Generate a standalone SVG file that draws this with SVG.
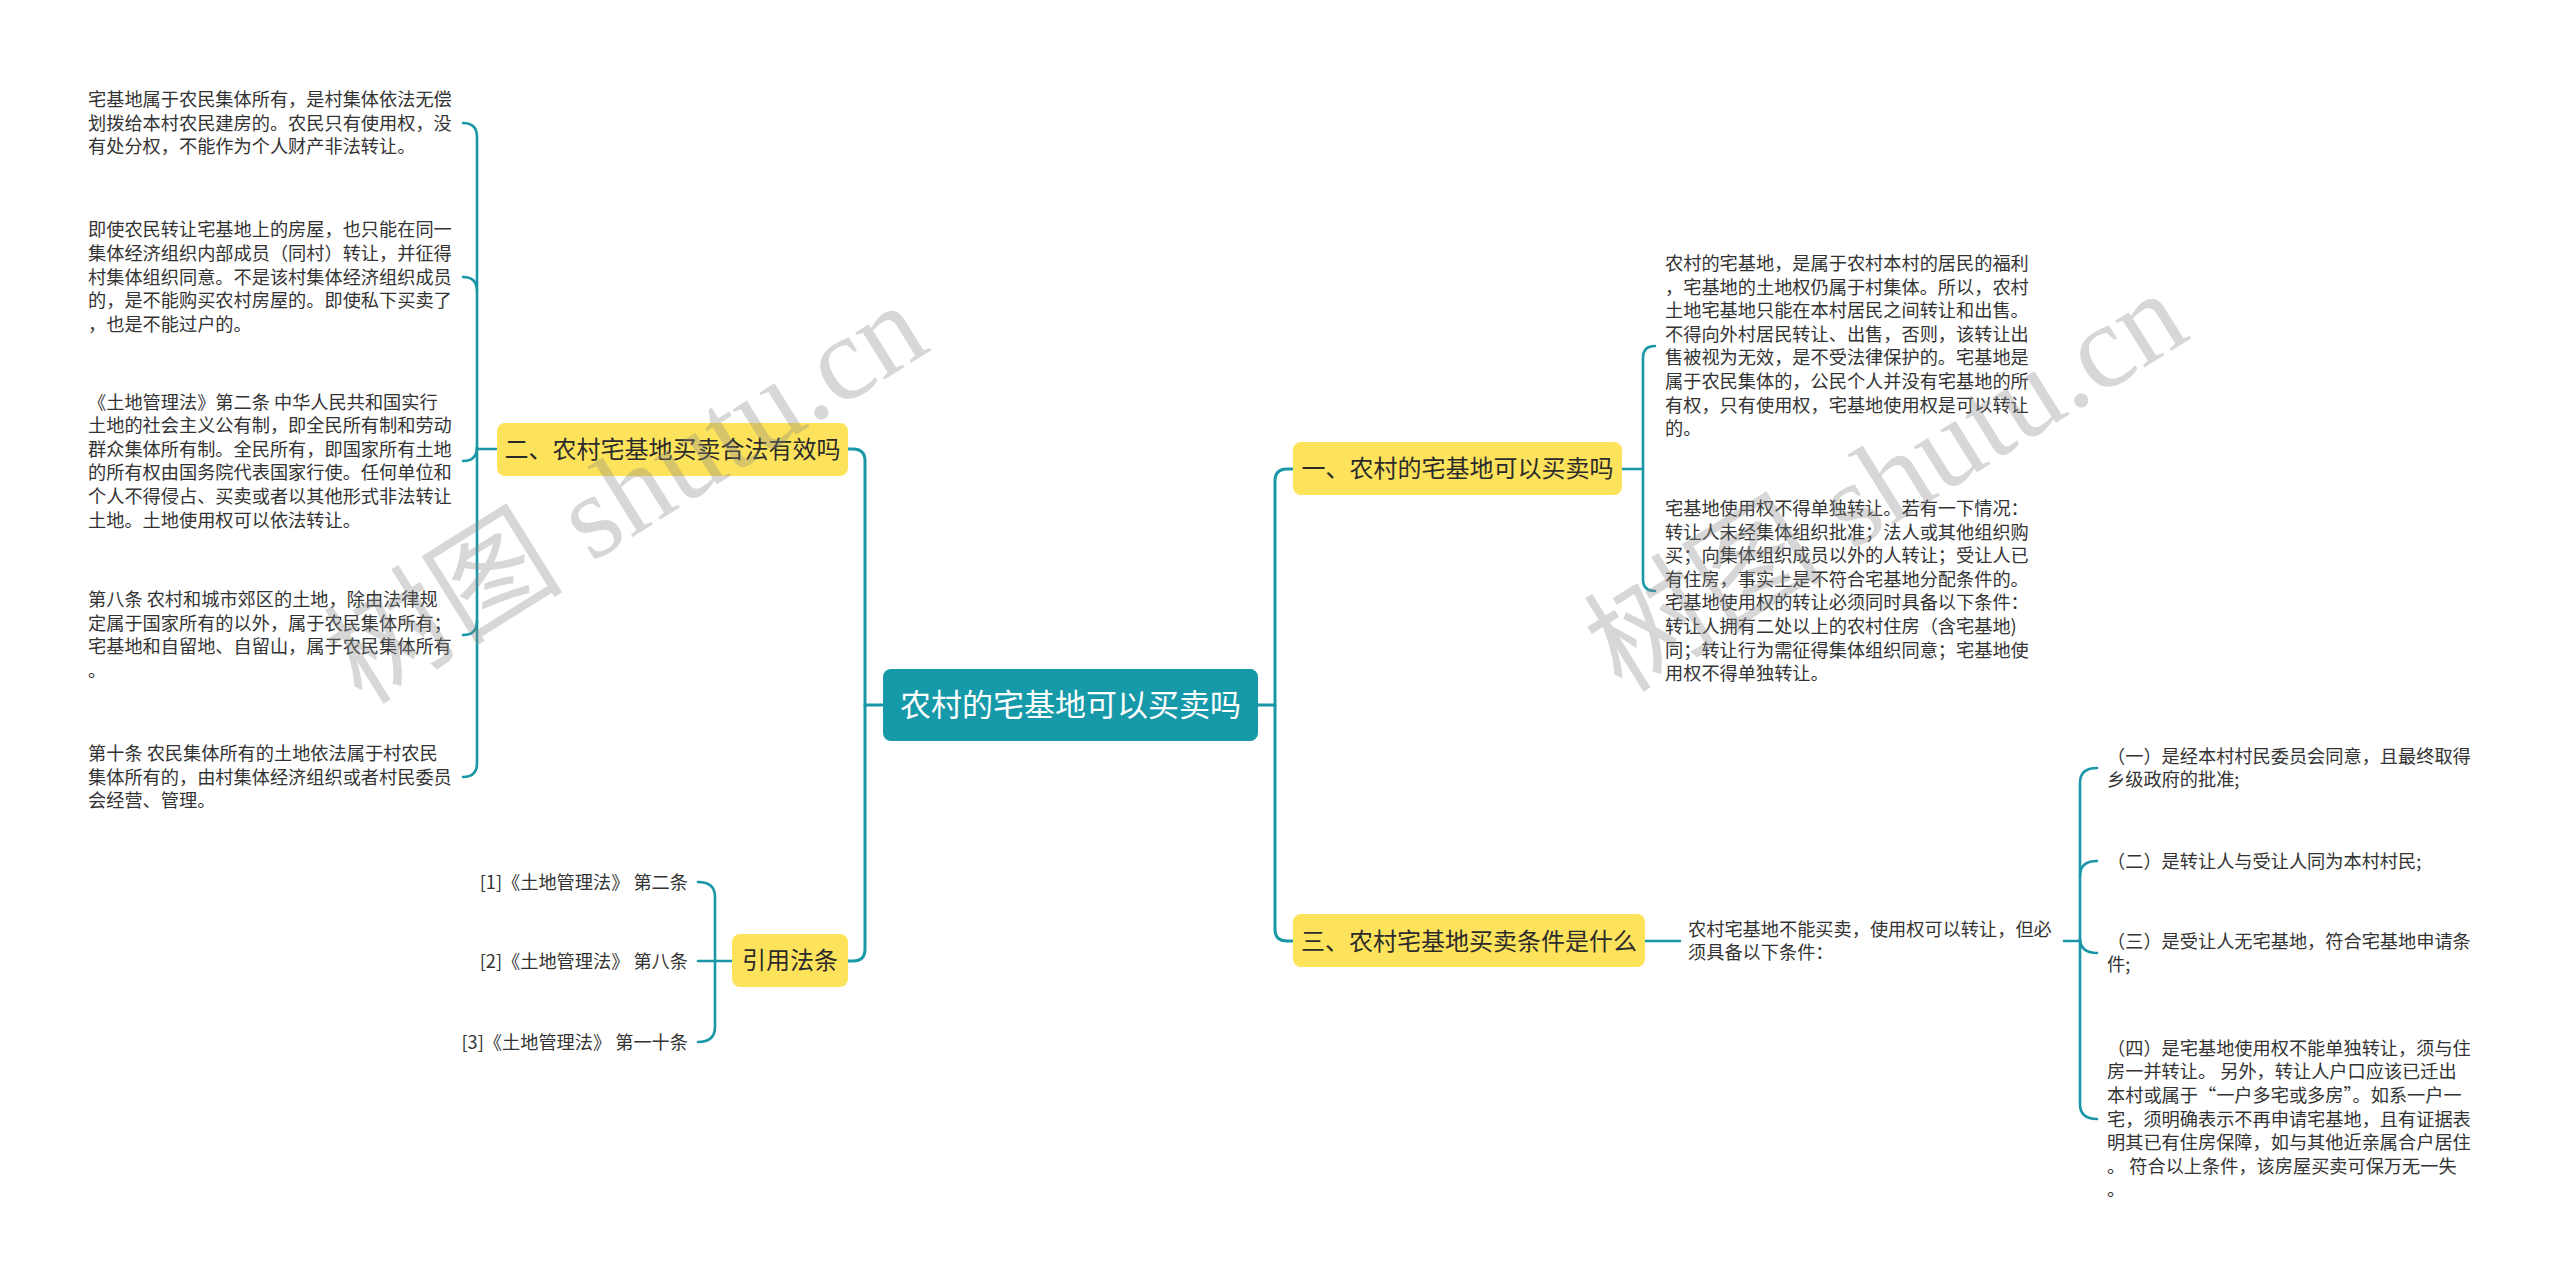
<svg xmlns="http://www.w3.org/2000/svg" width="2560" height="1285" viewBox="0 0 2560 1285">
<style>
.leaf{font-family:"Noto Sans CJK SC","Noto Sans",sans-serif;font-size:18.2px;fill:#333333}
.node{font-family:"Noto Sans CJK SC","Noto Sans",sans-serif;font-size:24px;fill:#2b2b2b;text-anchor:middle}
.root{font-family:"Noto Sans CJK SC","Noto Sans",sans-serif;font-size:31px;fill:#ffffff;text-anchor:middle}
.ybox{fill:#fde35b}
.lk{fill:none;stroke:#1a97a6;stroke-width:2.6;stroke-linecap:round}
.mk{fill:none;stroke:#1a97a6;stroke-width:3;stroke-linecap:round}
.wm{font-family:"Liberation Serif","Noto Sans CJK SC",serif;font-size:120px;fill:#888888;opacity:0.33}
</style>
<rect width="2560" height="1285" fill="#ffffff"/>
<g id="connectors">
<path class="mk" d="M883,705 H865"/>
<path class="mk" d="M848,449 H853 Q865,449 865,461 V949 Q865,961 853,961 H848"/>
<path class="mk" d="M1258,705 H1275"/>
<path class="mk" d="M1293,469 H1287 Q1275,469 1275,481 V929 Q1275,941 1287,941 H1293"/>
<path class="lk" d="M497,449 H477"/>
<path class="lk" d="M463,123 Q477,123 477,137 V763 Q477,777 463,777"/>
<path class="lk" d="M463,277 Q477,277 477,291"/>
<path class="lk" d="M463,461 Q477,461 477,447"/>
<path class="lk" d="M463,635 Q477,635 477,621"/>
<path class="lk" d="M732,961 H698"/>
<path class="lk" d="M698,882 Q715,882 715,897 V1027 Q715,1042 698,1042"/>
<path class="lk" d="M1622,469 H1643"/>
<path class="lk" d="M1655,346 Q1643,346 1643,358 V579 Q1643,591 1655,591"/>
<path class="lk" d="M1645,941 H1680"/>
<path class="lk" d="M2064,941 H2080"/>
<path class="lk" d="M2097,768 Q2080,768 2080,783 V1104 Q2080,1119 2097,1119"/>
<path class="lk" d="M2097,861 Q2080,861 2080,876"/>
<path class="lk" d="M2097,953 Q2080,953 2080,938"/>
</g>
<g id="root">
<rect x="883" y="669" width="375" height="72" rx="8" fill="#1699a8"/>
<text class="root" x="1070.5" y="716">农村的宅基地可以买卖吗</text>
</g>
<g id="n2">
<rect class="ybox" x="497" y="423" width="351" height="53" rx="8"/>
<text class="node" x="672.5" y="458">二、农村宅基地买卖合法有效吗</text>
</g>
<g id="cite">
<rect class="ybox" x="732" y="934" width="116" height="53" rx="8"/>
<text class="node" x="790" y="969">引用法条</text>
</g>
<g id="n1">
<rect class="ybox" x="1293" y="442" width="329" height="53" rx="8"/>
<text class="node" x="1457.5" y="477">一、农村的宅基地可以买卖吗</text>
</g>
<g id="n3">
<rect class="ybox" x="1293" y="914" width="352" height="53" rx="8"/>
<text class="node" x="1469" y="949.5">三、农村宅基地买卖条件是什么</text>
</g>
<g id="l2a">
<text class="leaf"><tspan x="88" y="105.9">宅基地属于农民集体所有，是村集体依法无偿</tspan><tspan x="88" y="129.5">划拨给本村农民建房的。农民只有使用权，没</tspan><tspan x="88" y="153.1">有处分权，不能作为个人财产非法转让。</tspan></text>
</g>
<g id="l2b">
<text class="leaf"><tspan x="88" y="236.3">即使农民转让宅基地上的房屋，也只能在同一</tspan><tspan x="88" y="259.9">集体经济组织内部成员（同村）转让，并征得</tspan><tspan x="88" y="283.5">村集体组织同意。不是该村集体经济组织成员</tspan><tspan x="88" y="307.1">的，是不能购买农村房屋的。即使私下买卖了</tspan><tspan x="88" y="330.7">，也是不能过户的。</tspan></text>
</g>
<g id="l2c">
<text class="leaf"><tspan x="88" y="408.5">《土地管理法》第二条 中华人民共和国实行</tspan><tspan x="88" y="432.1">土地的社会主义公有制，即全民所有制和劳动</tspan><tspan x="88" y="455.7">群众集体所有制。全民所有，即国家所有土地</tspan><tspan x="88" y="479.3">的所有权由国务院代表国家行使。任何单位和</tspan><tspan x="88" y="502.9">个人不得侵占、买卖或者以其他形式非法转让</tspan><tspan x="88" y="526.5">土地。土地使用权可以依法转让。</tspan></text>
</g>
<g id="l2d">
<text class="leaf"><tspan x="88" y="606.1">第八条 农村和城市郊区的土地，除由法律规</tspan><tspan x="88" y="629.7">定属于国家所有的以外，属于农民集体所有；</tspan><tspan x="88" y="653.3">宅基地和自留地、自留山，属于农民集体所有</tspan><tspan x="88" y="676.9">。</tspan></text>
</g>
<g id="l2e">
<text class="leaf"><tspan x="88" y="759.9">第十条 农民集体所有的土地依法属于村农民</tspan><tspan x="88" y="783.5">集体所有的，由村集体经济组织或者村民委员</tspan><tspan x="88" y="807.1">会经营、管理。</tspan></text>
</g>
<g id="c1"><text class="leaf" x="688" y="888.5" text-anchor="end">[1]《土地管理法》 第二条</text></g>
<g id="c2"><text class="leaf" x="688" y="967.5" text-anchor="end">[2]《土地管理法》 第八条</text></g>
<g id="c3"><text class="leaf" x="688" y="1048.5" text-anchor="end">[3]《土地管理法》 第一十条</text></g>
<g id="l1a">
<text class="leaf"><tspan x="1665" y="269.9">农村的宅基地，是属于农村本村的居民的福利</tspan><tspan x="1665" y="293.5">，宅基地的土地权仍属于村集体。所以，农村</tspan><tspan x="1665" y="317.1">土地宅基地只能在本村居民之间转让和出售。</tspan><tspan x="1665" y="340.7">不得向外村居民转让、出售，否则，该转让出</tspan><tspan x="1665" y="364.3">售被视为无效，是不受法律保护的。宅基地是</tspan><tspan x="1665" y="387.9">属于农民集体的，公民个人并没有宅基地的所</tspan><tspan x="1665" y="411.5">有权，只有使用权，宅基地使用权是可以转让</tspan><tspan x="1665" y="435.1">的。</tspan></text>
</g>
<g id="l1b">
<text class="leaf"><tspan x="1665" y="514.9">宅基地使用权不得单独转让。若有一下情况：</tspan><tspan x="1665" y="538.5">转让人未经集体组织批准；法人或其他组织购</tspan><tspan x="1665" y="562.1">买；向集体组织成员以外的人转让；受让人已</tspan><tspan x="1665" y="585.7">有住房，事实上是不符合宅基地分配条件的。</tspan><tspan x="1665" y="609.3">宅基地使用权的转让必须同时具备以下条件：</tspan><tspan x="1665" y="632.9">转让人拥有二处以上的农村住房（含宅基地)</tspan><tspan x="1665" y="656.5">同；转让行为需征得集体组织同意；宅基地使</tspan><tspan x="1665" y="680.1">用权不得单独转让。</tspan></text>
</g>
<g id="l3">
<text class="leaf"><tspan x="1688" y="935.7">农村宅基地不能买卖，使用权可以转让，但必</tspan><tspan x="1688" y="959.3">须具备以下条件：</tspan></text>
</g>
<g id="l3a">
<text class="leaf"><tspan x="2107" y="762.7">（一）是经本村村民委员会同意，且最终取得</tspan><tspan x="2107" y="786.3">乡级政府的批准;</tspan></text>
</g>
<g id="l3b">
<text class="leaf"><tspan x="2107" y="867.5">（二）是转让人与受让人同为本村村民;</tspan></text>
</g>
<g id="l3c">
<text class="leaf"><tspan x="2107" y="947.7">（三）是受让人无宅基地，符合宅基地申请条</tspan><tspan x="2107" y="971.3">件;</tspan></text>
</g>
<g id="l3d">
<text class="leaf"><tspan x="2107" y="1054.7">（四）是宅基地使用权不能单独转让，须与住</tspan><tspan x="2107" y="1078.3">房一并转让。 另外，转让人户口应该已迁出</tspan><tspan x="2107" y="1101.9">本村或属于“一户多宅或多房”。如系一户一</tspan><tspan x="2107" y="1125.5">宅，须明确表示不再申请宅基地，且有证据表</tspan><tspan x="2107" y="1149.1">明其已有住房保障，如与其他近亲属合户居住</tspan><tspan x="2107" y="1172.7">。 符合以上条件，该房屋买卖可保万无一失</tspan><tspan x="2107" y="1196.3">。</tspan></text>
</g>
<g id="watermarks">
<text class="wm" x="362" y="706" transform="rotate(-32 362 706)">树图 shutu.cn</text>
<text class="wm" x="1622" y="694" transform="rotate(-32 1622 694)">树图 shutu.cn</text>
</g>
</svg>
